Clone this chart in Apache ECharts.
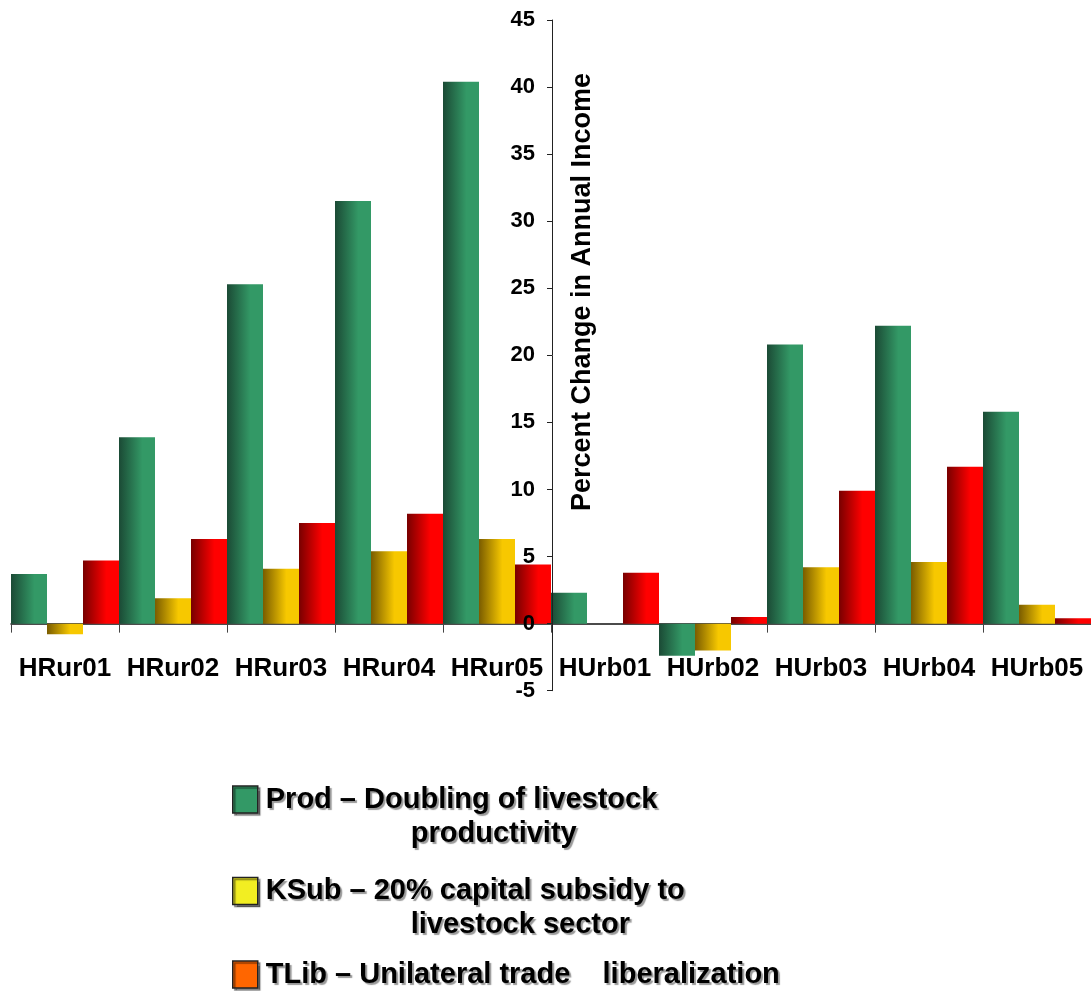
<!DOCTYPE html>
<html><head><meta charset="utf-8">
<script src="https://cdn.jsdelivr.net/npm/echarts@6/dist/echarts.min.js"></script>
<style>html,body{margin:0;padding:0;background:#fff}#c{width:1091px;height:991px}</style>
</head><body><div id="c"></div>
<script>
const categories = ['HRur01','HRur02','HRur03','HRur04','HRur05','HUrb01','HUrb02','HUrb03','HUrb04','HUrb05'];
const prod = [3.7, 13.9, 25.3, 31.5, 40.4, 2.3, -2.4, 20.8, 22.2, 15.8];
const ksub = [-0.8, 1.9, 4.1, 5.4, 6.3, 0, -2.0, 4.2, 4.6, 1.4];
const tlib = [4.7, 6.3, 7.5, 8.2, 4.4, 3.8, 0.5, 9.9, 11.7, 0.4];
const yMin = -5, yMax = 45, yStep = 5;
const seriesNames = ['Prod', 'KSub', 'TLib'];
const legendLine1 = ['Prod – Doubling of livestock', 'KSub – 20% capital subsidy to', 'TLib – Unilateral trade    liberalization'];
const legendLine2 = ['productivity', 'livestock sector', ''];
const axisTitle = 'Percent Change in Annual Income';

const FONT = '"Liberation Sans", Arial, sans-serif';
function grad(dark, bright) {
  return new echarts.graphic.LinearGradient(0, 0, 1, 0, [
    {offset: 0, color: dark}, {offset: 0.65, color: bright}, {offset: 1, color: bright}
  ]);
}
const barColors = [grad('#1b4a35', '#339966'), grad('#7a5c00', '#f7c800'), grad('#780000', '#ff0000')];
const iconColors = ['#339966', '#f2ee22', '#ff6600'];
const iconCenters = [799.5, 891, 977];

const gridTop = 20, gridBottom = 300.3, H = 991;
const unitPx = (H - gridBottom - gridTop) / (yMax - yMin);
const zeroShift = (0 - yMin) * unitPx;

const chart = echarts.init(document.getElementById('c'), null, {renderer: 'canvas'});

const legends = seriesNames.map((name, i) => {
  const two = legendLine2[i] !== '';
  const blockH = two ? 102 : 34;
  return {
    orient: 'vertical',
    left: 232,
    top: iconCenters[i] - blockH / 2,
    padding: 0,
    itemWidth: 25,
    itemHeight: 27,
    selectedMode: false,
    data: [{name: name, icon: 'rect', itemStyle: {color: iconColors[i], borderColor: '#222', borderWidth: 1.5,
      shadowColor: 'rgba(0,0,0,0.45)', shadowOffsetX: 2, shadowOffsetY: 2, shadowBlur: 1}}],
    formatter: function () {
      return two ? ('{e| }\n{a|' + legendLine1[i] + '}\n{b|' + legendLine2[i] + '}') : ('{a|' + legendLine1[i] + '}');
    },
    textStyle: {
      fontFamily: FONT, fontWeight: 'bold', fontSize: 29, color: '#000',
      rich: {
        e: {height: 34, lineHeight: 34, fontSize: 29},
        a: {fontFamily: FONT, fontWeight: 'bold', fontSize: 29, lineHeight: 34, color: '#000', padding: [0, 0, 0, 3],
            textShadowColor: 'rgba(0,0,0,0.4)', textShadowOffsetX: 2, textShadowOffsetY: 2, textShadowBlur: 1},
        b: {fontFamily: FONT, fontWeight: 'bold', fontSize: 29, lineHeight: 34, color: '#000', padding: [0, 0, 0, 148],
            textShadowColor: 'rgba(0,0,0,0.4)', textShadowOffsetX: 2, textShadowOffsetY: 2, textShadowBlur: 1}
      }
    }
  };
});

const option = {
  backgroundColor: '#fff',
  animation: false,
  grid: {left: 11, right: 0, top: gridTop, bottom: gridBottom, containLabel: false},
  legend: legends,
  xAxis: {
    type: 'category',
    data: categories,
    position: 'bottom',
    offset: -zeroShift,
    axisLine: {onZero: false, lineStyle: {color: '#111', width: 1.5}},
    axisTick: {show: true, length: 9, lineStyle: {color: '#444', width: 1}},
    axisLabel: {interval: 0, margin: 32, fontFamily: FONT, fontWeight: 'bold', fontSize: 26, color: '#000'},
    splitLine: {show: false}
  },
  yAxis: {
    type: 'value',
    min: yMin, max: yMax, interval: yStep,
    position: 'left',
    offset: -541,
    z: 10,
    axisLine: {show: true, lineStyle: {color: '#222', width: 1}},
    axisTick: {show: true, inside: false, length: 5, lineStyle: {color: '#222'}},
    axisLabel: {margin: 17, fontFamily: FONT, fontWeight: 'bold', fontSize: 22, color: '#000'},
    splitLine: {show: false}
  },
  graphic: [{
    type: 'text',
    x: 583, y: 292,
    rotation: Math.PI / 2,
    z: 100,
    style: {text: axisTitle, font: 'bold 27px ' + FONT, fill: '#000', align: 'center', verticalAlign: 'middle'}
  }],
  series: [prod, ksub, tlib].map((d, i) => ({
    name: seriesNames[i],
    type: 'bar',
    data: d,
    barGap: '0%',
    barCategoryGap: '0%',
    itemStyle: {color: barColors[i]}
  }))
};
chart.setOption(option);
</script></body></html>
